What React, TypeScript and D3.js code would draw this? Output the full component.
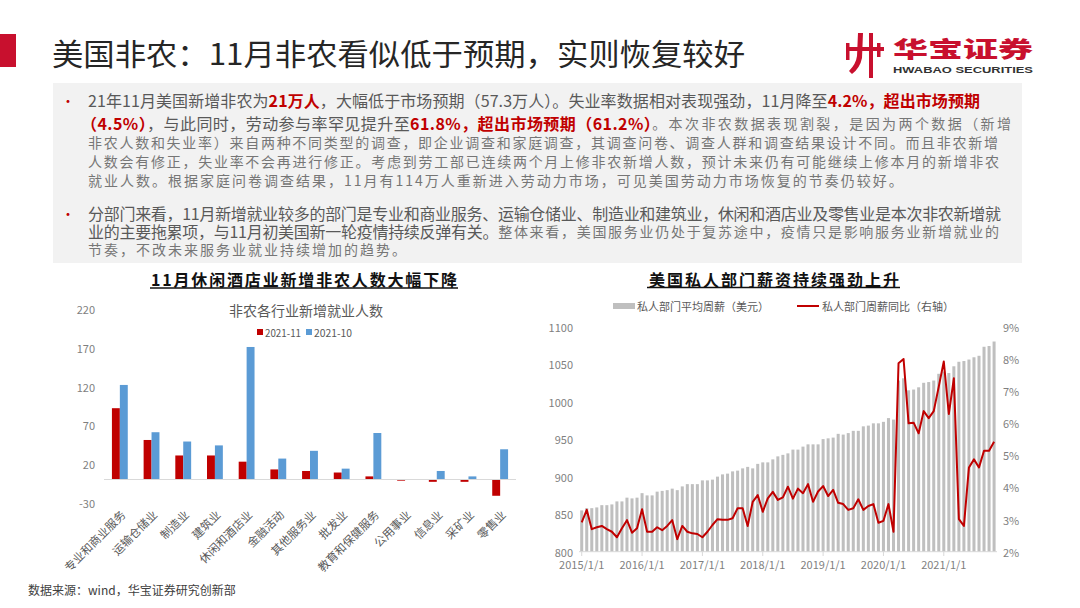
import React from 'react';
import * as d3 from 'd3';

// ---------- Left chart data ----------
const sectors = ['专业和商业服务', '运输仓储业', '制造业', '建筑业', '休闲和酒店业', '金融活动', '其他服务业', '批发业', '教育和保健服务', '公用事业', '信息业', '采矿业', '零售业'];
const nov2021 = [92, 51, 31, 31, 23, 13, 11, 9, 4, -1.5, -3, -3, -21];
const oct2021 = [122, 61, 49, 44, 171, 27, 37, 14, 60, 0, 11, 4, 39];
const seriesNames = ['2021-11', '2021-10'];
const leftTicks = [-30, 20, 70, 120, 170, 220];

// ---------- Right chart data (monthly 2015-01 .. 2021-11) ----------
const weeklyEarnings = [
  855, 858, 858, 859, 862, 862, 863, 867, 867, 872, 871, 872,
  878, 875, 875, 880, 881, 882, 884, 882, 887, 890, 890, 890,
  895, 895, 896, 900, 903, 904, 907, 908, 911, 913, 911, 917,
  919, 919, 923, 927, 929, 931, 936, 936, 940, 943, 943, 943,
  950, 951, 952, 957, 956, 958, 961, 961, 967, 968, 971, 971,
  973, 978, 976, 1028, 1031, 1015, 1016, 1019, 1025, 1026, 1028, 1037,
  1040, 1038, 1047, 1053, 1054, 1056, 1059, 1061, 1073, 1074, 1080,
];
const earningsYoY = [
  2.91, 3.30, 2.70, 2.76, 2.80, 2.70, 2.62, 2.45, 2.73, 2.98, 2.59, 2.73,
  3.32, 2.62, 2.62, 2.76, 2.67, 2.80, 2.98, 2.39, 2.80, 2.62, 2.57, 2.55,
  2.45, 2.62, 2.83, 3.01, 2.99, 2.99, 3.04, 3.35, 3.35, 2.80, 3.55, 3.76,
  3.24, 3.66, 3.86, 3.61, 3.69, 4.02, 3.65, 3.96, 3.82, 4.10, 3.55, 3.87,
  4.04, 3.73, 3.92, 3.52, 3.48, 3.30, 3.35, 3.63, 3.30, 3.42, 3.48, 2.90,
  2.96, 3.48, 2.62, 7.86, 7.99, 5.99, 6.01, 5.68, 6.37, 6.15, 6.37, 7.13,
  7.91, 6.28, 7.39, 3.01, 2.80, 4.62, 4.87, 4.62, 5.14, 5.14, 5.42,
];
const months = d3.timeMonth.range(new Date(2015, 0, 1), new Date(2021, 11, 1));
const xTickLabels = ['2015/1/1', '2016/1/1', '2017/1/1', '2018/1/1', '2019/1/1', '2020/1/1', '2021/1/1'];
const wageTicks = [800, 850, 900, 950, 1000, 1050, 1100];
const yoyTicks = [2, 3, 4, 5, 6, 7, 8, 9];
const legendRight = ['私人部门平均周薪（美元）', '私人部门周薪同比（右轴）'];

// ---------- Text ----------
type Seg = [string, string];
const para1: { y: number; x: number; len?: number; segs: Seg[] }[] = [
  { y: 100, x: 88, len: 892, segs: [['n', '21年11月美国新增非农为'], ['r', '21万人'], ['n', '，大幅低于市场预期（57.3万人）。失业率数据相对表现强劲，11月降至'], ['r', '4.2%，超出市场预期']] },
  { y: 123, x: 81, len: 932, segs: [['r', '（4.5%）'], ['n', '，与此同时，劳动参与率罕见提升至'], ['r', '61.8%，超出市场预期（61.2%）'], ['s', '。本次非农数据表现割裂，是因为两个数据（新增']] },
  { y: 142, x: 88, len: 912, segs: [['s', '非农人数和失业率）来自两种不同类型的调查，即企业调查和家庭调查，其调查问卷、调查人群和调查结果设计不同。而且非农新增']] },
  { y: 161, x: 88, len: 913, segs: [['s', '人数会有修正，失业率不会再进行修正。考虑到劳工部已连续两个月上修非农新增人数，预计未来仍有可能继续上修本月的新增非农']] },
  { y: 179.5, x: 88, segs: [['s', '就业人数。根据家庭问卷调查结果，11月有114万人重新进入劳动力市场，可见美国劳动力市场恢复的节奏仍较好。']] },
  { y: 213, x: 88, len: 913, segs: [['n', '分部门来看，11月新增就业较多的部门是专业和商业服务、运输仓储业、制造业和建筑业，休闲和酒店业及零售业是本次非农新增就']] },
  { y: 231, x: 88, len: 913, segs: [['n', '业的主要拖累项，与11月初美国新一轮疫情持续反弹有关。'], ['s', '整体来看，美国服务业仍处于复苏途中，疫情只是影响服务业新增就业的']] },
  { y: 249, x: 88, segs: [['s', '节奏，不改未来服务业就业持续增加的趋势。']] },
];

const FONT = '"Noto Sans CJK SC", "Noto Sans", sans-serif';
const RED = '#c00000';
const BLUE = '#5b9bd5';
const GRAY_T = '#595959';
const AXIS_T = '#7f7f7f';

function segStyle(t: string): React.SVGProps<SVGTSpanElement> {
  if (t === 'r') return { fill: RED, fontWeight: 700, fontSize: 16 };
  if (t === 's') return { fill: '#767676', fontSize: 14, letterSpacing: 2 };
  return { fill: GRAY_T, fontSize: 16 };
}

export default function App() {
  // Left chart scales
  const xL = d3.scaleBand<string>().domain(sectors).range([104, 516]).paddingInner(0.5).paddingOuter(0.25);
  const yL = d3.scaleLinear().domain([-30, 220]).range([502.75, 309]);
  const bw = xL.bandwidth() / 2;

  // Right chart scales
  const idx = months.map((_, i) => i);
  const xR = d3.scaleBand<number>().domain(idx).range([579.2, 996.6]).paddingInner(0.4).paddingOuter(0.2);
  const yW = d3.scaleLinear().domain([800, 1100]).range([551.7, 326.5]);
  const yP = d3.scaleLinear().domain([2, 9]).range([551.7, 326.5]);
  const cx = (i: number) => (xR(i) as number) + xR.bandwidth() / 2;
  const linePath = d3.line<number>().x((_, i) => cx(i)).y((d) => yP(d))(earningsYoY) || '';
  const fmt = d3.timeFormat('%Y/%-m/%-d');
  const tickIdx = months.map((m, i) => ({ m, i })).filter(({ m }) => xTickLabels.includes(fmt(m)));

  return (
    <svg width={1080} height={608} style={{ position: 'absolute', left: 0, top: 0, background: '#fff' }} fontFamily={FONT}>
      {/* Header */}
      <rect x={0} y={34} width={16} height={33} fill="#c8102e" />
      <text x={52} y={52} dominantBaseline="central" fontSize={30} fill="#262626" textLength={693} lengthAdjust="spacingAndGlyphs">美国非农：11月非农看似低于预期，实则恢复较好</text>
      {/* Logo */}
      <g fill="#c8102e">
        <rect x={846} y={47} width={38} height={4} />
        <rect x={869} y={33} width={4} height={45} />
        <path d="M858 33 L863 33 L862 58 Q860 68 852 74 L849 71 Q856 64 857 56 Z" />
        <rect x={846} y={43} width={3.5} height={17} />
        <rect x={877} y={43} width={3.5} height={14} />
      </g>
      <text x={893} y={47} dominantBaseline="central" fontSize={22} fontWeight={900} fill="#c8102e" textLength={140} lengthAdjust="spacingAndGlyphs">华宝证券</text>
      <text x={893} y={70} dominantBaseline="central" fontSize={9} fontWeight={700} fill="#333" fontFamily="'Liberation Sans', Arial, sans-serif" textLength={140} lengthAdjust="spacingAndGlyphs">HWABAO SECURITIES</text>

      {/* Text box */}
      <rect x={53} y={83} width={969} height={180} fill="#f2f2f2" />
      <text x={61} y={100} dominantBaseline="central" fontSize={14} fill={RED}>•</text>
      <text x={61} y={213} dominantBaseline="central" fontSize={14} fill={RED}>•</text>
      {para1.map((ln, k) => (
        <text key={k} x={ln.x} y={ln.y} dominantBaseline="central" {...(ln.len ? { textLength: ln.len, lengthAdjust: 'spacing' } : {})}>
          {ln.segs.map(([t, s], j) => (
            <tspan key={j} {...segStyle(t)}>{s}</tspan>
          ))}
        </text>
      ))}

      {/* Left chart */}
      <text x={304} y={279} textAnchor="middle" dominantBaseline="central" fontSize={16} fontWeight={700} fill="#111" textLength={306} lengthAdjust="spacing">11月休闲酒店业新增非农人数大幅下降</text>
      <line x1={150} x2={458} y1={288} y2={288} stroke="#111" strokeWidth={1.3} />
      <text x={306} y={310} textAnchor="middle" dominantBaseline="central" fontSize={14} fill={GRAY_T}>非农各行业新增就业人数</text>
      <rect x={257} y={329} width={6} height={6} fill={RED} />
      <text x={265} y={332} dominantBaseline="central" fontSize={10.5} fill={GRAY_T} textLength={36} lengthAdjust="spacingAndGlyphs">{seriesNames[0]}</text>
      <rect x={306} y={329} width={6} height={6} fill={BLUE} />
      <text x={314} y={332} dominantBaseline="central" fontSize={10.5} fill={GRAY_T} textLength={38} lengthAdjust="spacingAndGlyphs">{seriesNames[1]}</text>
      {leftTicks.map((t) => (
        <text key={t} x={95} y={yL(t)} textAnchor="end" dominantBaseline="central" fontSize={11} fill={AXIS_T}>{t}</text>
      ))}
      {sectors.map((s, i) => {
        const x0 = xL(s) as number;
        const a = nov2021[i];
        const b = oct2021[i];
        return (
          <g key={s}>
            <rect x={x0} y={yL(Math.max(0, a))} width={bw} height={Math.abs(yL(a) - yL(0))} fill={RED} />
            <rect x={x0 + bw} y={yL(Math.max(0, b))} width={bw} height={Math.abs(yL(b) - yL(0))} fill={BLUE} />
          </g>
        );
      })}
      <line x1={104} x2={516} y1={yL(0)} y2={yL(0)} stroke="#d9d9d9" strokeWidth={1} />
      {sectors.map((s) => {
        const c = (xL(s) as number) + xL.bandwidth() / 2 + 3;
        return (
          <text key={s} x={c} y={512} textAnchor="end" dominantBaseline="central" fontSize={11.5} fill={GRAY_T} transform={`rotate(-45 ${c} 512)`}>{s}</text>
        );
      })}

      {/* Right chart */}
      <text x={774} y={279} textAnchor="middle" dominantBaseline="central" fontSize={16} fontWeight={700} fill="#111" textLength={250} lengthAdjust="spacing">美国私人部门薪资持续强劲上升</text>
      <line x1={647} x2={900} y1={287.5} y2={287.5} stroke="#111" strokeWidth={1.3} />
      <rect x={613} y={303} width={22} height={6} fill="#bfbfbf" />
      <text x={637} y={306} dominantBaseline="central" fontSize={11} fill={GRAY_T}>{legendRight[0]}</text>
      <line x1={797} x2={819} y1={306} y2={306} stroke={RED} strokeWidth={2} />
      <text x={822} y={306} dominantBaseline="central" fontSize={11} fill={GRAY_T}>{legendRight[1]}</text>
      {wageTicks.map((t) => (
        <text key={t} x={573} y={yW(t)} textAnchor="end" dominantBaseline="central" fontSize={11} fill={AXIS_T}>{t}</text>
      ))}
      {yoyTicks.map((t) => (
        <text key={t} x={1003} y={yP(t)} dominantBaseline="central" fontSize={11} fill={AXIS_T}>{t}%</text>
      ))}
      {weeklyEarnings.map((v, i) => (
        <rect key={i} x={xR(i) as number} y={yW(v)} width={xR.bandwidth()} height={yW(800) - yW(v)} fill="#bfbfbf" />
      ))}
      <line x1={579} x2={997} y1={551.7} y2={551.7} stroke="#d9d9d9" strokeWidth={1} />
      {tickIdx.map(({ m, i }) => (
        <g key={i}>
          <line x1={cx(i)} x2={cx(i)} y1={551.7} y2={556} stroke="#d9d9d9" />
          <text x={cx(i)} y={564} textAnchor="middle" dominantBaseline="central" fontSize={11} fill={AXIS_T}>{fmt(m)}</text>
        </g>
      ))}
      <path d={linePath} fill="none" stroke={RED} strokeWidth={2} strokeLinejoin="round" />

      {/* Footer */}
      <text x={28} y={589} dominantBaseline="central" fontSize={12} fill="#404040">数据来源：wind，华宝证券研究创新部</text>
    </svg>
  );
}
